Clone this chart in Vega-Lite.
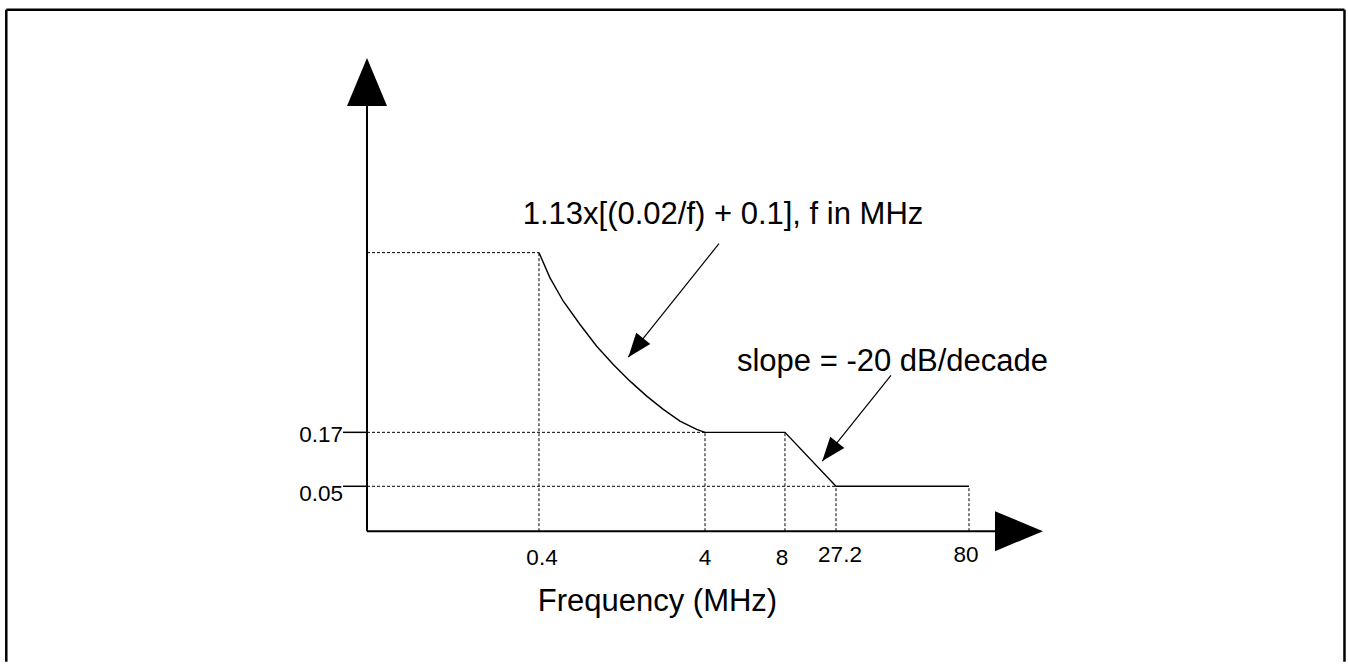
{
  "$schema": "https://vega.github.io/schema/vega-lite/v6.json",
  "width": 1348,
  "height": 664,
  "autosize": {"type": "fit", "contains": "padding"},
  "padding": 0,
  "background": "white",
  "config": {"view": {"stroke": null}, "font": "Liberation Sans"},
  "datasets": {
    "frame": [
      {"x": -53.36, "y": 110.19, "x2": -53.36, "y2": -27.6},
      {"x": -53.36, "y": 110.19, "x2": 144.6, "y2": 110.19},
      {"x": 144.6, "y": 110.19, "x2": 144.6, "y2": -27.6}
    ],
    "axes": [
      {"x": 0, "y": 0, "x2": 0, "y2": 89.87},
      {"x": 0, "y": 0, "x2": 92.9, "y2": 0}
    ],
    "ticks": [
      {"x": -3.55, "y": 20.89, "x2": 0, "y2": 20.89},
      {"x": -3.55, "y": 9.49, "x2": 0, "y2": 9.49}
    ],
    "guides": [
      {"x": 0, "y": 58.86, "x2": 25.44, "y2": 58.86},
      {"x": 0, "y": 20.89, "x2": 50.0, "y2": 20.89},
      {"x": 0, "y": 9.49, "x2": 69.38, "y2": 9.49},
      {"x": 25.44, "y": 0, "x2": 25.44, "y2": 58.86},
      {"x": 50.0, "y": 0, "x2": 50.0, "y2": 20.89},
      {"x": 61.83, "y": 0, "x2": 61.83, "y2": 20.89},
      {"x": 69.38, "y": 0, "x2": 69.38, "y2": 9.49},
      {"x": 89.05, "y": 0, "x2": 89.05, "y2": 9.49}
    ],
    "curve": [
      {"i": 1, "x": 25.44, "y": 58.86},
      {"i": 2, "x": 27.07, "y": 53.52},
      {"i": 3, "x": 29.04, "y": 48.59},
      {"i": 4, "x": 31.51, "y": 43.67},
      {"i": 5, "x": 33.98, "y": 39.09},
      {"i": 6, "x": 36.43, "y": 35.23},
      {"i": 7, "x": 38.91, "y": 31.71},
      {"i": 8, "x": 41.38, "y": 28.54},
      {"i": 9, "x": 43.83, "y": 25.74},
      {"i": 10, "x": 46.30, "y": 23.27},
      {"i": 11, "x": 48.77, "y": 21.52},
      {"i": 12, "x": 50.0, "y": 20.89},
      {"i": 13, "x": 61.83, "y": 20.89},
      {"i": 14, "x": 69.38, "y": 9.49},
      {"i": 15, "x": 89.05, "y": 9.49}
    ],
    "pointers": [
      {"x": 52.07, "y": 60.76, "x2": 38.65, "y2": 36.77},
      {"x": 77.51, "y": 32.91, "x2": 67.35, "y2": 14.83}
    ],
    "heads": [
      {"name": "yaxis", "x": 0, "y": 94.94},
      {"name": "xaxis", "x": 96.45, "y": 0},
      {"name": "p1", "x": 39.76, "y": 38.76},
      {"name": "p2", "x": 68.46, "y": 16.80}
    ],
    "xlabels": [
      {"x": 25.89, "y": -7.17, "label": "0.4"},
      {"x": 50.0, "y": -7.17, "label": "4"},
      {"x": 61.39, "y": -7.17, "label": "8"},
      {"x": 69.97, "y": -6.54, "label": "27.2"},
      {"x": 88.61, "y": -6.54, "label": "80"}
    ],
    "ylabels": [
      {"x": -3.55, "y": 18.78, "label": "0.17"},
      {"x": -3.55, "y": 6.33, "label": "0.05"}
    ],
    "notes": [
      {"x": 52.66, "y": 64.98, "label": "1.13x[(0.02/f) + 0.1], f in MHz"},
      {"x": 77.74, "y": 33.76, "label": "slope = -20 dB/decade"},
      {"x": 42.97, "y": -16.88, "label": "Frequency (MHz)"}
    ]
  },
  "layer": [
    {
      "data": {"name": "frame"},
      "mark": {"type": "rule", "color": "black", "strokeWidth": 2.5},
      "encoding": {
        "x": {"field": "x", "type": "quantitative", "scale": {"domain": [-54.29, 145.12], "nice": false, "zero": false}, "axis": null},
        "y": {"field": "y", "type": "quantitative", "scale": {"domain": [-27.85, 112.24], "nice": false, "zero": false}, "axis": null},
        "x2": {"field": "x2"},
        "y2": {"field": "y2"}
      }
    },
    {
      "data": {"name": "guides"},
      "mark": {"type": "rule", "color": "black", "strokeWidth": 1, "strokeDash": [3, 2]},
      "encoding": {
        "x": {"field": "x", "type": "quantitative"},
        "y": {"field": "y", "type": "quantitative"},
        "x2": {"field": "x2"},
        "y2": {"field": "y2"}
      }
    },
    {
      "data": {"name": "axes"},
      "mark": {"type": "rule", "color": "black", "strokeWidth": 2},
      "encoding": {
        "x": {"field": "x", "type": "quantitative"},
        "y": {"field": "y", "type": "quantitative"},
        "x2": {"field": "x2"},
        "y2": {"field": "y2"}
      }
    },
    {
      "data": {"name": "ticks"},
      "mark": {"type": "rule", "color": "black", "strokeWidth": 1.5},
      "encoding": {
        "x": {"field": "x", "type": "quantitative"},
        "y": {"field": "y", "type": "quantitative"},
        "x2": {"field": "x2"},
        "y2": {"field": "y2"}
      }
    },
    {
      "data": {"name": "curve"},
      "mark": {"type": "line", "color": "black", "strokeWidth": 1.4},
      "encoding": {
        "x": {"field": "x", "type": "quantitative"},
        "y": {"field": "y", "type": "quantitative"},
        "order": {"field": "i", "type": "quantitative"}
      }
    },
    {
      "data": {"name": "pointers"},
      "mark": {"type": "rule", "color": "black", "strokeWidth": 1.2},
      "encoding": {
        "x": {"field": "x", "type": "quantitative"},
        "y": {"field": "y", "type": "quantitative"},
        "x2": {"field": "x2"},
        "y2": {"field": "y2"}
      }
    },
    {
      "data": {"name": "heads"},
      "transform": [{"filter": "datum.name === 'yaxis'"}],
      "mark": {"type": "point", "shape": "M0,-1L-0.8333,1L0.8333,1Z", "size": 2304, "angle": 0, "filled": true, "fill": "black", "strokeWidth": 0, "opacity": 1},
      "encoding": {
        "x": {"field": "x", "type": "quantitative"},
        "y": {"field": "y", "type": "quantitative"}
      }
    },
    {
      "data": {"name": "heads"},
      "transform": [{"filter": "datum.name === 'xaxis'"}],
      "mark": {"type": "point", "shape": "M0,-1L-0.8333,1L0.8333,1Z", "size": 2304, "angle": 90, "filled": true, "fill": "black", "strokeWidth": 0, "opacity": 1},
      "encoding": {
        "x": {"field": "x", "type": "quantitative"},
        "y": {"field": "y", "type": "quantitative"}
      }
    },
    {
      "data": {"name": "heads"},
      "transform": [{"filter": "datum.name === 'p1' || datum.name === 'p2'"}],
      "mark": {"type": "point", "shape": "M0,-1L-0.75,1L0.75,1Z", "size": 576, "angle": 218.6, "filled": true, "fill": "black", "strokeWidth": 0, "opacity": 1},
      "encoding": {
        "x": {"field": "x", "type": "quantitative"},
        "y": {"field": "y", "type": "quantitative"}
      }
    },
    {
      "data": {"name": "xlabels"},
      "mark": {"type": "text", "align": "center", "baseline": "alphabetic", "fontSize": 22.5, "color": "black", "font": "Liberation Sans"},
      "encoding": {
        "x": {"field": "x", "type": "quantitative"},
        "y": {"field": "y", "type": "quantitative"},
        "text": {"field": "label"}
      }
    },
    {
      "data": {"name": "ylabels"},
      "mark": {"type": "text", "align": "right", "baseline": "alphabetic", "fontSize": 22.5, "color": "black", "font": "Liberation Sans"},
      "encoding": {
        "x": {"field": "x", "type": "quantitative"},
        "y": {"field": "y", "type": "quantitative"},
        "text": {"field": "label"}
      }
    },
    {
      "data": {"name": "notes"},
      "mark": {"type": "text", "align": "center", "baseline": "alphabetic", "fontSize": 31, "color": "black", "font": "Liberation Sans"},
      "encoding": {
        "x": {"field": "x", "type": "quantitative"},
        "y": {"field": "y", "type": "quantitative"},
        "text": {"field": "label"}
      }
    }
  ]
}
